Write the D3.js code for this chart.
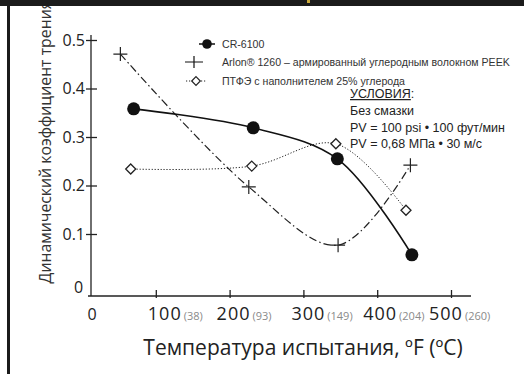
<!DOCTYPE html>
<html><head><meta charset="utf-8">
<script src="https://cdn.jsdelivr.net/npm/d3@7"></script>
<style>
html,body{margin:0;padding:0;background:#fff;}
svg{display:block;}
</style></head>
<body>
<svg id="chart" width="524" height="374"></svg>
<script>
// ---- data ----
const xTicks = [100, 200, 300, 400, 500];
const xTicksC = ["(38)", "(93)", "(149)", "(204)", "(260)"];
const yTicks = [0.1, 0.2, 0.3, 0.4, 0.5];
const crTemp = [70, 232, 346, 447];
const crVal = [0.358, 0.319, 0.255, 0.057];
const arlonTemp = [52, 226, 347, 445];
const arlonVal = [0.471, 0.197, 0.077, 0.242];
const ptfeTemp = [66, 230, 344, 439];
const ptfeVal = [0.234, 0.240, 0.286, 0.149];
const legendLabels = ["CR-6100", "Arlon® 1260 – армированный углеродным волокном PEEK", "ПТФЭ с наполнителем 25% углерода"];
const condTitle = "УСЛОВИЯ";
const condLines = ["Без смазки", "PV = 100 psi • 100 фут/мин", "PV = 0,68 МПа • 30 м/с"];
const xTitle = "Температура испытания, ºF (ºC)";
const yTitle = "Динамический коэффициент трения";

// ---- drawing ----
const svg = d3.select("#chart");
const x = d3.scaleLinear().domain([0, 500]).range([82, 451]);
const y = d3.scaleLinear().domain([0, 0.5]).range([282.5, 40]);
const axisY = 296, axisX = 91;
const sans = "Liberation Sans, Arial, sans-serif";
const open = "Open Sans, sans-serif";

// y title (drawn first so the top bar clips it like the reference)
svg.append("text")
  .attr("transform", `translate(51,142) rotate(-90)`)
  .attr("text-anchor", "middle")
  .attr("font-family", open).attr("font-size", 15.8).attr("fill", "#333")
  .text(yTitle);

// frame pieces
svg.append("rect").attr("x", 0).attr("y", 0).attr("width", 524).attr("height", 6).attr("fill", "#1b1b1b");
svg.append("rect").attr("x", 307).attr("y", 0).attr("width", 3).attr("height", 3).attr("fill", "#c9a83a");
svg.append("rect").attr("x", 7).attr("y", 6).attr("width", 3).attr("height", 368).attr("fill", "#1b1b1b");

// axes lines
svg.append("line").attr("x1", axisX).attr("x2", axisX).attr("y1", 35).attr("y2", axisY)
  .attr("stroke", "#222").attr("stroke-width", 1.3);
svg.append("line").attr("x1", 88).attr("x2", 471).attr("y1", axisY).attr("y2", axisY)
  .attr("stroke", "#222").attr("stroke-width", 1.3);

// y axis
const gy = svg.append("g").attr("transform", `translate(${axisX},0)`)
  .call(d3.axisLeft(y).tickValues(yTicks).tickFormat(d3.format(".1f")).tickSize(0).tickPadding(6));
gy.select(".domain").remove();
gy.selectAll(".tick line").attr("x1", -5).attr("x2", 6).attr("stroke", "#222").attr("stroke-width", 1.3);
gy.selectAll(".tick text").attr("font-family", open).attr("font-size", 16).attr("fill", "#222").attr("dy", "0.34em");
svg.append("text").attr("x", 78.5).attr("y", 293).attr("text-anchor", "middle")
  .attr("font-family", open).attr("font-size", 16).attr("fill", "#222").text("0");

// x axis
const gx = svg.append("g").attr("transform", `translate(0,${axisY})`)
  .call(d3.axisBottom(x).tickValues(xTicks).tickFormat("").tickSize(0));
gx.select(".domain").remove();
gx.selectAll(".tick line").attr("y1", -6).attr("y2", 2).attr("stroke", "#222").attr("stroke-width", 1.3);
const labelShift = [-8, -13, -12, -14, -22];
xTicks.forEach((t, i) => {
  const t0 = svg.append("text").attr("x", x(t) + labelShift[i]).attr("y", 320)
    .attr("font-family", open).attr("fill", "#222");
  t0.append("tspan").attr("font-size", 18).attr("letter-spacing", 1).text(t);
  t0.append("tspan").attr("font-size", 11).attr("fill", "#8a8a8a").attr("dx", 2).text(xTicksC[i]);
});
svg.append("text").attr("x", 92).attr("y", 320).attr("text-anchor", "middle")
  .attr("font-family", open).attr("font-size", 16).attr("fill", "#222").text("0");

// x title
svg.append("text").attr("x", 303).attr("y", 355).attr("text-anchor", "middle")
  .attr("font-family", open).attr("font-size", 21).attr("fill", "#222").text(xTitle);

// series
const curve = d3.curveCatmullRom.alpha(0.5);
const line = d3.line().x(d => x(d[0])).y(d => y(d[1])).curve(curve);
const cr = crTemp.map((t, i) => [t, crVal[i]]);
const ar = arlonTemp.map((t, i) => [t, arlonVal[i]]);
const pt = ptfeTemp.map((t, i) => [t, ptfeVal[i]]);

svg.append("path").datum(pt).attr("d", line).attr("fill", "none").attr("stroke", "#222")
  .attr("stroke-width", 1).attr("stroke-dasharray", "1.2,1.8");
svg.append("path").datum(ar).attr("d", line).attr("fill", "none").attr("stroke", "#222")
  .attr("stroke-width", 1.2).attr("stroke-dasharray", "8,3,1.5,3");
svg.append("path").datum(cr).attr("d", line).attr("fill", "none").attr("stroke", "#111")
  .attr("stroke-width", 1.6);

const diamond = (cx, cy, s) => `M${cx},${cy - s}L${cx + s},${cy}L${cx},${cy + s}L${cx - s},${cy}Z`;
svg.selectAll(".pt").data(pt).enter().append("path")
  .attr("d", d => diamond(x(d[0]), y(d[1]), 5)).attr("fill", "#fff").attr("stroke", "#222").attr("stroke-width", 1.3);
svg.selectAll(".ar").data(ar).enter().append("path")
  .attr("d", d => `M${x(d[0]) - 7},${y(d[1])}H${x(d[0]) + 7}M${x(d[0])},${y(d[1]) - 7}V${y(d[1]) + 7}`)
  .attr("stroke", "#222").attr("stroke-width", 1.2).attr("fill", "none");
svg.selectAll(".cr").data(cr).enter().append("circle")
  .attr("cx", d => x(d[0])).attr("cy", d => y(d[1])).attr("r", 6.5).attr("fill", "#111");

// legend
const lg = svg.append("g");
lg.append("line").attr("x1", 199).attr("x2", 215).attr("y1", 44).attr("y2", 44).attr("stroke", "#111").attr("stroke-width", 1.5);
lg.append("circle").attr("cx", 207).attr("cy", 44).attr("r", 4.8).attr("fill", "#111");
lg.append("path").attr("d", "M185,62H203M194,56V68").attr("stroke", "#111").attr("stroke-width", 1.2);
lg.append("line").attr("x1", 186).attr("x2", 207).attr("y1", 81).attr("y2", 81).attr("stroke", "#222").attr("stroke-width", 1).attr("stroke-dasharray", "1.2,1.8");
lg.append("path").attr("d", diamond(196, 81, 4.3)).attr("fill", "#fff").attr("stroke", "#222").attr("stroke-width", 1.2);
legendLabels.forEach((l, i) => {
  lg.append("text").attr("x", 222).attr("y", [44, 62, 81][i]).attr("dy", "0.35em")
    .attr("font-family", sans).attr("font-size", 10.6).attr("fill", "#333").text(l);
});

// conditions
const cg = svg.append("g").attr("font-family", sans).attr("font-size", 12.5).attr("fill", "#222");
const ct = cg.append("text").attr("x", 350).attr("y", 98);
ct.append("tspan").attr("text-decoration", "underline").text(condTitle);
ct.append("tspan").text(":");
condLines.forEach((l, i) => {
  cg.append("text").attr("x", 350).attr("y", 115 + i * 16.5).text(l);
});
</script>
</body></html>
